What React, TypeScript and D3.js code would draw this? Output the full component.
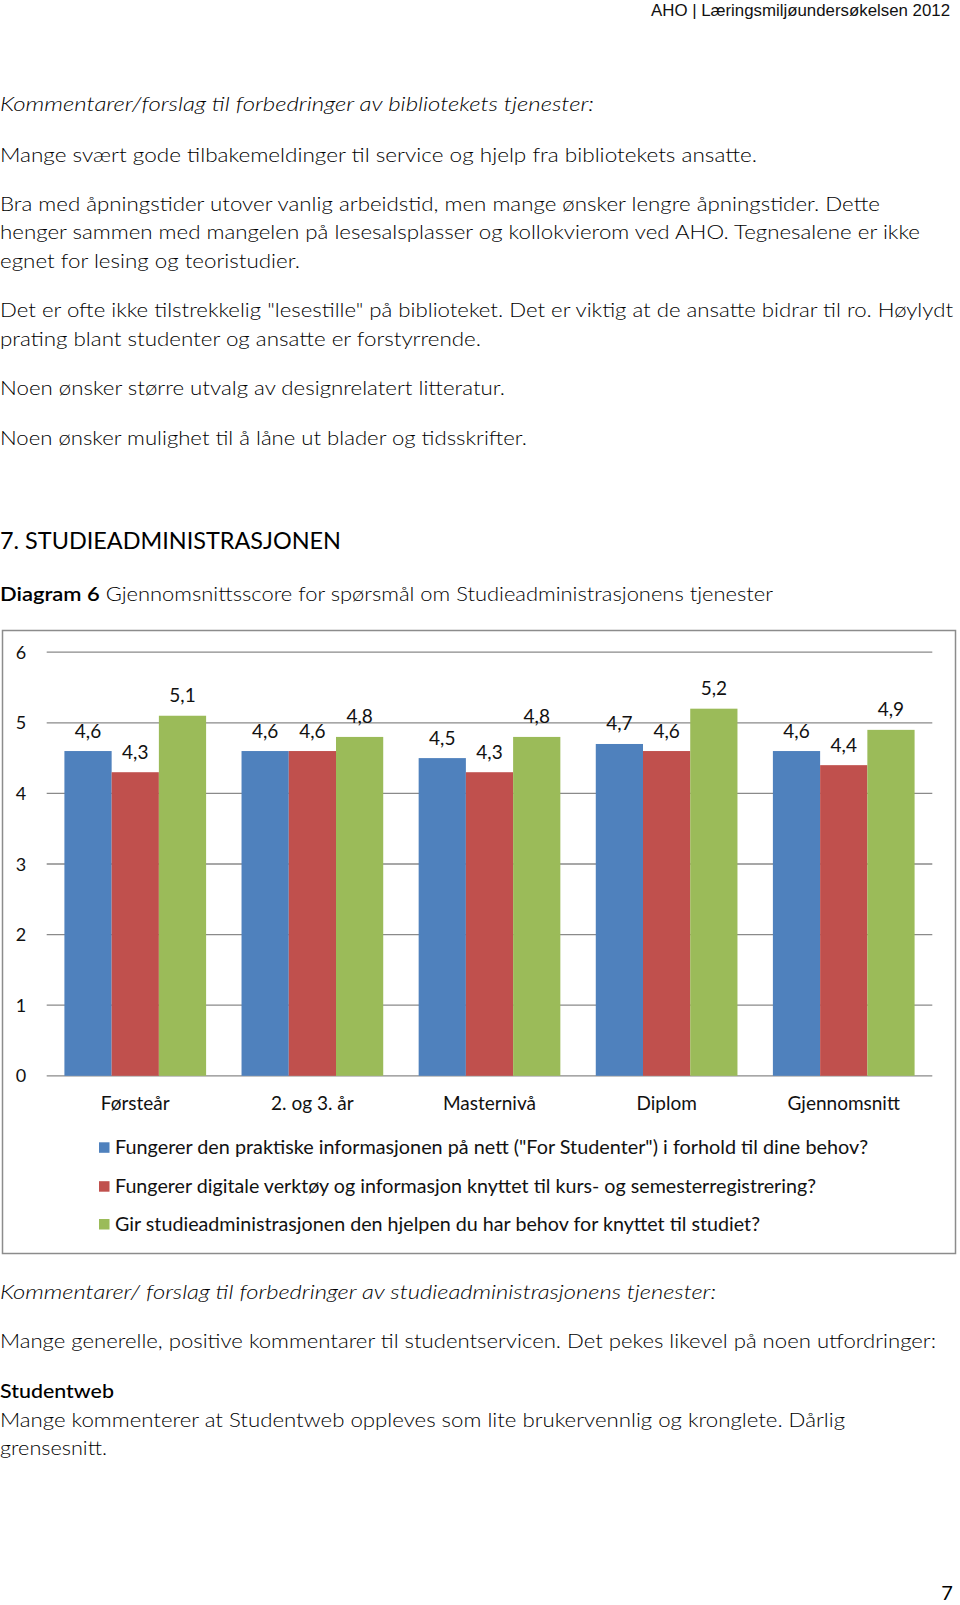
import React from "react";
import * as d3 from "d3";

const categories = ["Førsteår", "2. og 3. år", "Masternivå", "Diplom", "Gjennomsnitt"];
const seriesNames = [
  "Fungerer den praktiske informasjonen på nett (\"For Studenter\") i forhold til dine behov?",
  "Fungerer digitale verktøy og informasjon knyttet til kurs- og semesterregistrering?",
  "Gir studieadministrasjonen den hjelpen du har behov for knyttet til studiet?",
];
const seriesInfo = [4.6, 4.6, 4.5, 4.7, 4.6];
const seriesDigital = [4.3, 4.6, 4.3, 4.6, 4.4];
const seriesHelp = [5.1, 4.8, 4.8, 5.2, 4.9];
const yTicks = [0, 1, 2, 3, 4, 5, 6];
const colors = ["#4F81BD", "#C0504D", "#9BBB59"];

const BODY = "Lato, 'Noto Sans', sans-serif";
const CHART = "Lato, 'Open Sans', sans-serif";

const fmt = (v: number) => v.toFixed(1).replace(".", ",");

export default function App() {
  const x0 = d3.scaleBand<string>().domain(categories).range([46.7, 932.3]).padding(0);
  const bw = x0.bandwidth();
  const gap = bw * 0.2;
  const x1 = d3
    .scaleBand<number>()
    .domain([0, 1, 2])
    .range([gap / 2, bw - gap / 2])
    .padding(0);
  const y = d3.scaleLinear().domain([0, 6]).range([1075.8, 652.2]);
  const series = [seriesInfo, seriesDigital, seriesHelp];

  const bodyLine = (t: string, yb: number, w: number, extra: any = {}) => (
    <text x={0} y={yb + 1} fontSize={19} fontFamily={BODY} fontWeight={300} fill="#000" textLength={w} lengthAdjust="spacingAndGlyphs" {...extra}>
      {t}
    </text>
  );

  return (
    <svg width={960} height={1605} style={{ position: "absolute", left: 0, top: 0, background: "#fff" }}>
      <rect x={0} y={0} width={960} height={1605} fill="#fff" />
      <text x={651} y={15.5} fontSize={16} fontFamily="'Liberation Sans Narrow', 'Liberation Sans', Arial, sans-serif" fill="#111" textLength={299} lengthAdjust="spacingAndGlyphs">
        AHO | Læringsmiljøundersøkelsen 2012
      </text>

      {bodyLine("Kommentarer/forslag til forbedringer av bibliotekets tjenester:", 110, 594, { fontStyle: "italic", fontWeight: 300 })}
      {bodyLine("Mange svært gode tilbakemeldinger til service og hjelp fra bibliotekets ansatte.", 161, 757)}
      {bodyLine("Bra med åpningstider utover vanlig arbeidstid, men mange ønsker lengre åpningstider. Dette", 210, 880)}
      {bodyLine("henger sammen med mangelen på lesesalsplasser og kollokvierom ved AHO. Tegnesalene er ikke", 238, 920)}
      {bodyLine("egnet for lesing og teoristudier.", 267, 300)}
      {bodyLine("Det er ofte ikke tilstrekkelig \"lesestille\" på biblioteket. Det er viktig at de ansatte bidrar til ro. Høylydt", 316, 953)}
      {bodyLine("prating blant studenter og ansatte er forstyrrende.", 345, 481)}
      {bodyLine("Noen ønsker større utvalg av designrelatert litteratur.", 394, 505)}
      {bodyLine("Noen ønsker mulighet til å låne ut blader og tidsskrifter.", 444, 527)}

      <text x={0} y={548.5} fontSize={24} fontFamily={BODY} fill="#000" textLength={341} lengthAdjust="spacingAndGlyphs">
        7. STUDIEADMINISTRASJONEN
      </text>
      <text x={0} y={601} fontSize={19} fontFamily={BODY} fill="#000" textLength={773} lengthAdjust="spacingAndGlyphs">
        <tspan fontWeight={600}>Diagram 6</tspan>
        <tspan fontWeight={300}> Gjennomsnittsscore for spørsmål om Studieadministrasjonens tjenester</tspan>
      </text>

      {/* chart frame */}
      <rect x={2.5} y={630.5} width={953} height={623} fill="#fff" stroke="#8c8c8c" strokeWidth={1.5} />

      {yTicks.map((t) => (
        <g key={t}>
          <line x1={46.7} x2={932.3} y1={y(t)} y2={y(t)} stroke="#8a8a8a" strokeWidth={1.3} />
          <text x={21} y={y(t) + 6.5} textAnchor="middle" fontSize={18} fontFamily={CHART} fill="#111">
            {t}
          </text>
        </g>
      ))}

      {categories.map((c, i) => (
        <g key={c} transform={`translate(${x0(c)},0)`}>
          {series.map((s, j) => (
            <rect key={j} x={x1(j)} y={y(s[i])} width={x1.bandwidth()} height={y(0) - y(s[i])} fill={colors[j]} />
          ))}
          {series.map((s, j) => (
            <text key={"l" + j} x={(x1(j) as number) + x1.bandwidth() / 2} y={y(s[i]) - 13.5} textAnchor="middle" fontSize={19} fontFamily={CHART} fill="#111">
              {fmt(s[i])}
            </text>
          ))}
          <text x={bw / 2} y={1110} textAnchor="middle" fontSize={19} fontFamily={CHART} fill="#111">
            {c}
          </text>
        </g>
      ))}

      {seriesNames.map((n, j) => {
        const cy = [1147.3, 1186.2, 1224][j];
        const w = [753, 701, 645][j];
        return (
          <g key={n}>
            <rect x={99} y={cy - 5} width={10.5} height={10.5} fill={colors[j]} />
            <text x={115} y={cy + 6.5} fontSize={18.5} fontFamily={CHART} fill="#111" textLength={w} lengthAdjust="spacingAndGlyphs">
              {n}
            </text>
          </g>
        );
      })}

      {bodyLine("Kommentarer/ forslag til forbedringer av studieadministrasjonens tjenester:", 1298, 716, { fontStyle: "italic", fontWeight: 300 })}
      {bodyLine("Mange generelle, positive kommentarer til studentservicen. Det pekes likevel på noen utfordringer:", 1347, 936)}
      {bodyLine("Studentweb", 1397, 114, { fontWeight: 500 })}
      {bodyLine("Mange kommenterer at Studentweb oppleves som lite brukervennlig og kronglete. Dårlig", 1426, 845)}
      {bodyLine("grensesnitt.", 1454, 107)}

      <text x={947} y={1600} textAnchor="middle" fontSize={20} fontFamily={BODY} fill="#000">
        7
      </text>
    </svg>
  );
}
